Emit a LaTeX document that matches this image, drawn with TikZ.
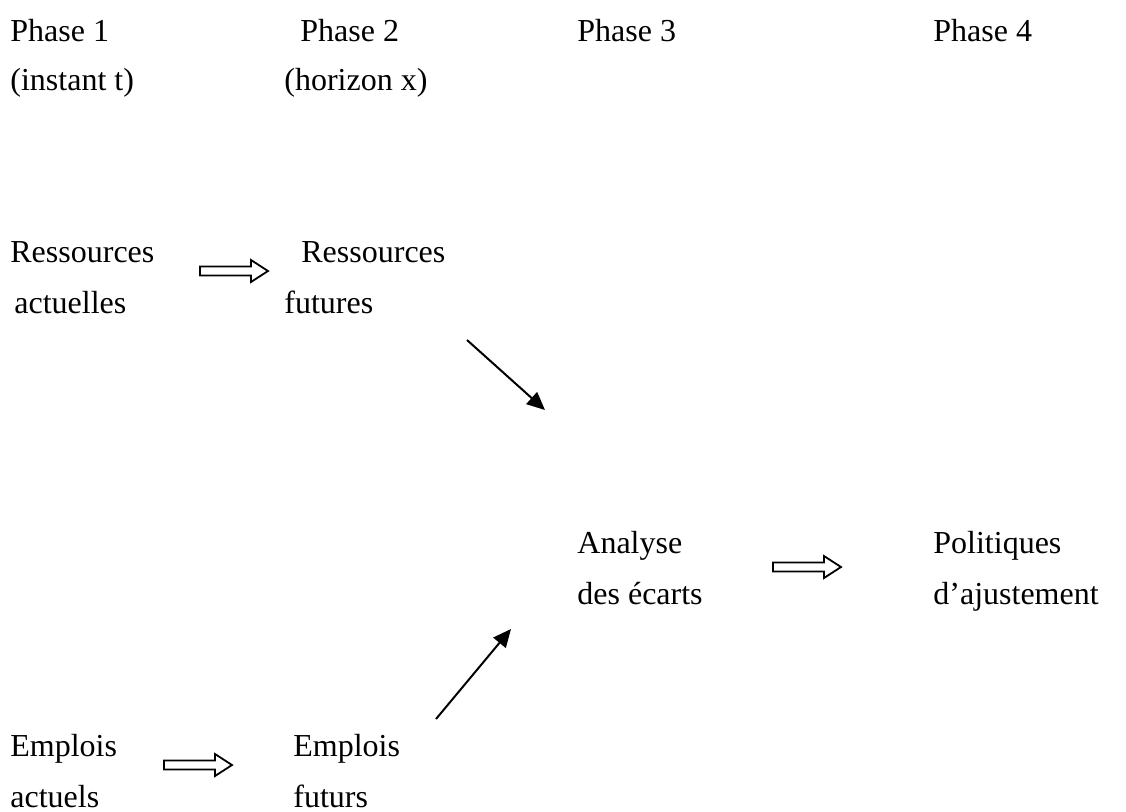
\documentclass[tikz,border=0pt]{standalone}
\usepackage{fontspec}
\setmainfont{Liberation Serif}
\usetikzlibrary{arrows.meta}
\tikzset{
  lbl/.style={anchor=base west, inner sep=0pt, font=\fontsize{16}{19}\selectfont},
  fleche/.style={line width=1pt, -{Triangle[length=9pt,width=8pt]}},
  pics/bloc/.style={code={
    \draw[line width=0.9pt, fill=white] (0,-4.5) -- (51,-4.5) -- (51,-11) -- (68,0)
      -- (51,11) -- (51,4.5) -- (0,4.5) -- cycle;
  }}
}
\begin{document}
\begin{tikzpicture}[x=0.5pt, y=-0.5pt]
    \useasboundingbox (0,0) rectangle (1126,811);
    % phases
    \node[lbl] (p1) at (10,41) {Phase 1};
    \node[lbl] (p1b) at (10,90) {(instant t)};
    \node[lbl] (p2) at (300,41) {Phase 2};
    \node[lbl] (p2b) at (284,90) {(horizon x)};
    \node[lbl] (p3) at (577,41) {Phase 3};
    \node[lbl] (p4) at (933,41) {Phase 4};
    % ressources
    \node[lbl] (ra) at (10,262) {Ressources};
    \node[lbl] (rab) at (14,313) {actuelles};
    \node[lbl] (rf) at (301,262) {Ressources};
    \node[lbl] (rfb) at (284,313) {futures};
    % analyse
    \node[lbl] (an) at (577,553) {Analyse};
    \node[lbl] (anb) at (577,604) {des écarts};
    \node[lbl] (po) at (933,553) {Politiques};
    \node[lbl] (pob) at (933,604) {d’ajustement};
    % emplois
    \node[lbl] (ea) at (10,756) {Emplois};
    \node[lbl] (eab) at (10,807) {actuels};
    \node[lbl] (ef) at (293,756) {Emplois};
    \node[lbl] (efb) at (293,807) {futurs};

    \pic at (200,271) {bloc};
    \pic at (164,765) {bloc};
    \pic at (773,567) {bloc};

    \coordinate (d1) at (467,340);
    \coordinate (f1) at (545,410);
    \coordinate (d2) at (436,719);
    \coordinate (f2) at (511,629);
    \draw[fleche] (d1) -- (f1);
    \draw[fleche] (d2) -- (f2);
\end{tikzpicture}
\end{document}
